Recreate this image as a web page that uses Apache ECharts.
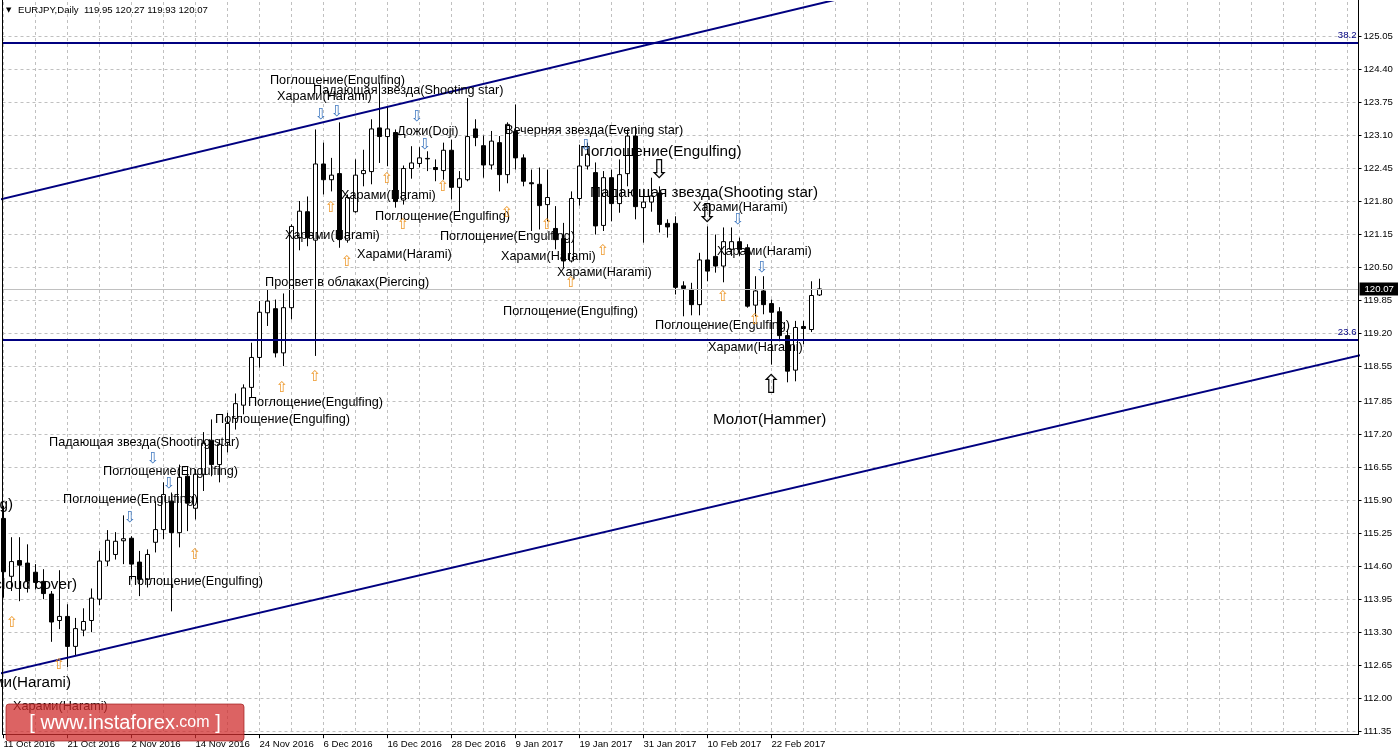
<!DOCTYPE html>
<html>
<head>
<meta charset="utf-8">
<script src="https://cdn.jsdelivr.net/npm/echarts@6/dist/echarts.min.js"></script>
<style>
html,body{margin:0;padding:0;background:#fff;}
#chart{width:1398px;height:755px;}
</style>
</head>
<body>
<div id="chart"></div>
<script>
// ---------------- data ----------------
const symbolName = 'EURJPY';
const timeframe = 'Daily';

const dates = [
'11 Oct 2016','12 Oct 2016','13 Oct 2016','14 Oct 2016','17 Oct 2016','18 Oct 2016','19 Oct 2016','20 Oct 2016','21 Oct 2016','24 Oct 2016','25 Oct 2016','26 Oct 2016','27 Oct 2016','28 Oct 2016','31 Oct 2016',
'1 Nov 2016','2 Nov 2016','3 Nov 2016','4 Nov 2016','7 Nov 2016','8 Nov 2016','9 Nov 2016','10 Nov 2016','11 Nov 2016','14 Nov 2016','15 Nov 2016','16 Nov 2016','17 Nov 2016','18 Nov 2016','21 Nov 2016','22 Nov 2016','23 Nov 2016','24 Nov 2016','25 Nov 2016','28 Nov 2016','29 Nov 2016','30 Nov 2016',
'1 Dec 2016','2 Dec 2016','5 Dec 2016','6 Dec 2016','7 Dec 2016','8 Dec 2016','9 Dec 2016','12 Dec 2016','13 Dec 2016','14 Dec 2016','15 Dec 2016','16 Dec 2016','19 Dec 2016','20 Dec 2016','21 Dec 2016','22 Dec 2016','23 Dec 2016','26 Dec 2016','27 Dec 2016','28 Dec 2016','29 Dec 2016','30 Dec 2016',
'2 Jan 2017','3 Jan 2017','4 Jan 2017','5 Jan 2017','6 Jan 2017','9 Jan 2017','10 Jan 2017','11 Jan 2017','12 Jan 2017','13 Jan 2017','16 Jan 2017','17 Jan 2017','18 Jan 2017','19 Jan 2017','20 Jan 2017','23 Jan 2017','24 Jan 2017','25 Jan 2017','26 Jan 2017','27 Jan 2017','30 Jan 2017','31 Jan 2017',
'1 Feb 2017','2 Feb 2017','3 Feb 2017','6 Feb 2017','7 Feb 2017','8 Feb 2017','9 Feb 2017','10 Feb 2017','13 Feb 2017','14 Feb 2017','15 Feb 2017','16 Feb 2017','17 Feb 2017','20 Feb 2017','21 Feb 2017','22 Feb 2017','23 Feb 2017','24 Feb 2017','27 Feb 2017','28 Feb 2017',
'1 Mar 2017','2 Mar 2017'];

const openP = [
115.55,114.41,114.72,114.67,114.49,114.31,114.06,113.54,113.62,113.03,
113.35,113.54,113.96,114.71,114.84,115.11,115.16,114.69,114.35,115.08,
115.33,115.89,115.27,116.38,115.75,116.42,117.09,116.61,117.05,117.52,
117.78,118.13,118.72,119.60,119.68,118.81,119.70,121.08,121.59,121.03,
122.53,122.22,122.34,121.03,121.59,122.34,122.38,123.24,123.07,123.15,
121.82,122.44,122.54,122.64,122.46,122.40,122.80,122.07,122.22,123.22,
122.89,122.51,122.95,122.32,123.17,122.65,122.16,122.13,121.73,121.26,
121.06,120.62,121.85,122.49,122.36,121.32,122.26,121.75,122.34,123.08,
121.67,121.78,121.96,121.36,121.36,120.13,120.06,119.76,120.64,120.71,
120.52,120.85,121.00,120.88,119.75,120.03,119.78,119.62,119.15,118.47,
119.33,119.27,119.95];

const highP = [
115.80,115.18,115.18,115.04,114.65,114.55,114.12,114.53,113.86,113.59,
113.78,114.17,114.91,115.32,115.28,115.61,115.20,114.91,114.94,115.89,
116.26,116.06,116.61,116.58,116.52,117.25,117.50,117.11,117.63,118.01,
118.19,119.01,119.83,120.06,119.86,119.98,121.34,121.80,121.89,123.21,
122.95,122.65,123.35,121.93,122.62,122.81,123.41,124.13,123.67,123.21,
122.50,122.88,122.86,122.78,122.62,122.95,123.01,122.39,123.83,123.41,
123.09,123.18,123.08,123.35,123.70,122.72,122.42,122.46,122.42,121.70,
121.37,121.99,122.91,122.95,122.56,122.39,122.42,122.62,123.21,123.27,
122.03,122.26,122.09,121.44,121.50,120.22,120.19,120.78,121.30,121.14,
121.28,121.28,121.08,120.95,120.32,120.32,119.86,119.71,119.27,119.44,
119.44,120.22,120.27];

const lowP = [
113.99,114.12,113.92,114.09,114.15,113.96,113.12,113.37,112.62,112.84,
113.23,113.31,113.84,114.61,114.74,114.65,114.35,114.02,114.19,114.88,
115.14,113.72,114.98,115.30,115.53,116.09,116.38,116.26,116.85,117.30,
117.60,117.93,118.52,119.34,118.72,118.55,119.47,120.83,120.91,118.75,
121.93,121.99,120.88,120.98,121.57,122.09,122.13,122.55,122.49,121.67,
121.73,122.24,122.46,122.39,122.19,122.22,121.83,121.60,122.19,122.88,
122.26,122.42,121.99,122.15,122.42,122.09,121.21,121.24,121.40,120.85,
120.49,120.59,121.71,122.42,121.14,121.21,121.40,121.57,122.09,121.44,
120.98,121.59,121.18,121.08,119.96,119.53,119.55,119.55,120.22,120.39,
120.20,120.72,120.72,119.70,119.53,119.57,118.58,119.04,118.23,118.25,
118.98,119.22,119.93];

const closeP = [
114.50,114.70,114.63,114.32,114.29,114.07,113.51,113.62,113.03,113.38,
113.52,113.98,114.71,115.12,115.10,115.15,114.65,114.35,114.84,115.33,
116.02,115.27,116.36,115.85,116.42,117.03,116.61,117.01,117.42,117.81,
118.12,118.72,119.61,119.83,118.81,119.70,121.30,121.60,121.08,122.53,
122.22,122.31,121.04,121.87,122.31,122.40,123.22,123.07,123.22,121.79,
122.44,122.55,122.65,122.63,122.42,122.80,122.07,122.24,123.07,123.05,
122.51,122.98,122.32,123.31,122.65,122.19,122.14,121.71,121.87,121.04,
120.62,121.85,122.49,122.72,121.31,122.26,121.75,122.32,123.08,121.69,
121.78,121.90,121.34,121.29,120.10,120.08,119.76,120.64,120.42,120.52,
121.00,121.00,120.85,119.73,120.03,119.76,119.61,119.15,118.45,119.31,
119.29,119.94,120.07];

const xTickLabels = ['11 Oct 2016','21 Oct 2016','2 Nov 2016','14 Nov 2016','24 Nov 2016','6 Dec 2016','16 Dec 2016','28 Dec 2016','9 Jan 2017','19 Jan 2017','31 Jan 2017','10 Feb 2017','22 Feb 2017'];
const yTickLabels = ['111.35','112.00','112.65','113.30','113.95','114.60','115.25','115.90','116.55','117.20','117.85','118.55','119.20','119.85','120.50','121.15','121.80','122.45','123.10','123.75','124.40','125.05'];

const fibNames = ['38.2', '23.6'];
const fibValues = [124.92, 119.07];

// trend lines: [candle index, price]
const upperTrend = [[-2, 121.77], [170, 128.25]];
const lowerTrend = [[-2, 112.44], [170, 118.78]];

// pattern annotations: [text, candle index, price]
const smallNotes = [
['Поглощение(Engulfing)', 33.31, 124.18],
['Падающая звезда(Shooting star)', 38.69, 123.97],
['Харами(Harami)', 34.19, 123.85],
['Дожи(Doji)', 49.19, 123.16],
['Вечерняя звезда(Evening star)', 62.69, 123.18],
['Харами(Harami)', 42.19, 121.90],
['Поглощение(Engulfing)', 46.44, 121.49],
['Харами(Harami)', 35.19, 121.13],
['Харами(Harami)', 44.19, 120.74],
['Просвет в облаках(Piercing)', 32.69, 120.19],
['Поглощение(Engulfing)', 54.56, 121.11],
['Харами(Harami)', 62.19, 120.70],
['Харами(Harami)', 69.19, 120.40],
['Поглощение(Engulfing)', 62.44, 119.63],
['Харами(Harami)', 86.19, 121.68],
['Харами(Harami)', 89.19, 120.80],
['Поглощение(Engulfing)', 81.44, 119.34],
['Харами(Harami)', 88.06, 118.91],
['Поглощение(Engulfing)', 30.56, 117.84],
['Поглощение(Engulfing)', 26.44, 117.49],
['Падающая звезда(Shooting star)', 5.69, 117.05],
['Поглощение(Engulfing)', 12.44, 116.48],
['Поглощение(Engulfing)', 7.44, 115.93],
['Поглощение(Engulfing)', 15.56, 114.30],
['Харами(Harami)', 1.19, 111.84]
];
const largeNotes = [
['Поглощение(Engulfing)', 72.06, 122.77],
['Падающая звезда(Shooting star)', 73.31, 121.96],
['Молот(Hammer)', 88.69, 117.49]
];
const edgeNotes = [
['Поглощение(Engulfing)', 1.19, 115.81],
['Завеса из темных облаков(Dark cloud cover)', 9.19, 114.24],
['Харами(Harami)', 8.44, 112.31]
];
const upArrows = [[40.94,121.66],[47.94,122.23],[49.94,121.33],[54.94,122.08],[42.94,120.60],[62.94,121.56],[67.94,121.33],[70.94,120.19],[74.94,120.82],[89.94,119.91],[93.94,119.46],[38.94,118.33],[34.81,118.12],[23.94,114.83],[1.06,113.49],[6.94,112.66]];
const downArrows = [[39.69,123.49],[41.69,123.55],[51.69,123.455],[52.69,122.90],[72.81,122.88],[91.81,121.43],[94.81,120.48],[18.69,116.72],[20.69,116.23],[15.81,115.56]];
const bigDownArrows = [[81.94,122.39],[87.94,121.53]];
const bigUpArrows = [[95.94,118.16]];

// ---------------- chart ----------------
const FONT = '"Liberation Sans", Arial, sans-serif';
const N = dates.length;
const last = N - 1;
const xMin = -0.125, xMax = 169.375;
const gridStepVals = [];
for (let v = 0; v <= 168; v += 4) gridStepVals.push(v);
const xLabelVals = xTickLabels.map(l => dates.indexOf(l));
const yTickVals = yTickLabels.map(Number);
const candleData = dates.map((d, i) => [i, openP[i], closeP[i], lowP[i], highP[i]]);

function textLayer(list, fontSize, color, align) {
  return {
    type: 'custom', xAxisIndex: 0, yAxisIndex: 0, silent: true, clip: false, z: 6,
    data: list.map((n, k) => [n[1], n[2], k]),
    encode: { x: 0, y: 1 },
    renderItem: (params, api) => {
      const p = api.coord([api.value(0), api.value(1)]);
      return { type: 'text', x: p[0], y: p[1],
        style: { text: list[api.value(2)][0], fontSize: fontSize, fontFamily: FONT, fill: color,
                 align: align, verticalAlign: 'middle' } };
    }
  };
}
function arrowLayer(points, glyph, fontSize, color) {
  return {
    type: 'custom', xAxisIndex: 0, yAxisIndex: 0, silent: true, clip: false, z: 6,
    data: points.map(p => [p[0], p[1]]),
    encode: { x: 0, y: 1 },
    renderItem: (params, api) => {
      const p = api.coord([api.value(0), api.value(1)]);
      return { type: 'text', x: p[0], y: p[1],
        style: { text: glyph, fontSize: fontSize, fontFamily: '"DejaVu Sans", sans-serif', fill: color,
                 align: 'center', verticalAlign: 'middle' } };
    }
  };
}

const chart = echarts.init(document.getElementById('chart'), null, { renderer: 'canvas', width: 1398, height: 755 });

const gridLine = { color: '#c0c0c0', type: [3, 3], width: 1 };

const option = {
  animation: false,
  backgroundColor: '#ffffff',
  grid: { left: 2.5, right: 39.5, top: 2, bottom: 23.3, containLabel: false, outerBoundsMode: 'none' },
  xAxis: [
    { type: 'value', min: xMin, max: xMax, position: 'bottom', offset: 2.5,
      axisLine: { show: true, onZero: false, lineStyle: { color: '#000', width: 1 } },
      axisTick: { show: false, customValues: gridStepVals },
      axisLabel: { show: false, customValues: gridStepVals },
      splitLine: { show: true, lineStyle: gridLine } },
    { type: 'value', min: xMin, max: xMax, position: 'bottom', offset: 2.5,
      axisLine: { show: false, onZero: false },
      axisTick: { show: true, length: 4, customValues: xLabelVals, lineStyle: { color: '#000' } },
      axisLabel: { show: true, customValues: xLabelVals, formatter: v => dates[Math.round(v)] || '',
                   align: 'left', margin: 5, color: '#000', fontSize: 9.6, fontFamily: FONT },
      splitLine: { show: false } }
  ],
  yAxis: {
    type: 'value', position: 'right', min: 111.35, max: 125.7196,
    axisLine: { show: false, onZero: false },
    axisTick: { show: true, inside: false, length: 3, customValues: yTickVals, lineStyle: { color: '#000' } },
    axisLabel: { show: true, customValues: yTickVals, formatter: v => v.toFixed(2), color: '#000',
                 fontSize: 9.6, fontFamily: FONT, margin: 5 },
    splitLine: { show: true, lineStyle: gridLine }
  },
  series: [
    {
      type: 'candlestick', xAxisIndex: 0, yAxisIndex: 0, data: candleData,
      encode: { x: 0, y: [1, 2, 3, 4] },
      barWidth: 5, clip: false, silent: true, z: 4,
      itemStyle: { color: '#ffffff', color0: '#000000', borderColor: '#000000', borderColor0: '#000000',
                   borderColorDoji: '#000000', borderWidth: 1 },
      markLine: {
        symbol: ['none', 'none'], silent: true, animation: false,
        data: fibValues.map((v, k) => ({
          yAxis: v,
          lineStyle: { color: '#000080', width: 2, type: 'solid' },
          label: { show: true, position: 'insideEndTop', formatter: fibNames[k], color: '#000080',
                   fontSize: 9.6, fontFamily: FONT, distance: 2 }
        })).concat([{
          yAxis: closeP[last],
          lineStyle: { color: '#c0c0c0', width: 1, type: 'solid' },
          label: { show: true, position: 'end', formatter: closeP[last].toFixed(2), color: '#ffffff',
                   backgroundColor: '#000000', padding: [2, 5, 1, 5], fontSize: 9.6, fontFamily: FONT, distance: 1 }
        }])
      }
    },
    { type: 'line', xAxisIndex: 0, yAxisIndex: 0, data: upperTrend, symbol: 'none', silent: true, z: 5,
      lineStyle: { color: '#000080', width: 2 } },
    { type: 'line', xAxisIndex: 0, yAxisIndex: 0, data: lowerTrend, symbol: 'none', silent: true, z: 5,
      lineStyle: { color: '#000080', width: 2 } },
    textLayer(smallNotes, 12.7, '#000000', 'left'),
    textLayer(largeNotes, 15.2, '#000000', 'left'),
    textLayer(edgeNotes, 15.2, '#000000', 'right'),
    arrowLayer(upArrows, '⇧', 15, '#ee9a2e'),
    arrowLayer(downArrows, '⇩', 15, '#3f78c0'),
    arrowLayer(bigUpArrows, '⇧', 26, '#000000'),
    arrowLayer(bigDownArrows, '⇩', 26, '#000000')
  ],
  graphic: [
    { type: 'line', z: 50, silent: true, shape: { x1: 2.5, y1: 0, x2: 2.5, y2: 734.7 }, style: { stroke: '#000', lineWidth: 1 } },
    { type: 'line', z: 50, silent: true, shape: { x1: 1358.5, y1: 0, x2: 1358.5, y2: 734.7 }, style: { stroke: '#000', lineWidth: 1 } },
    { type: 'text', z: 50, silent: true, x: 6, y: 10.5,
      style: { text: '▼', fontSize: 7, fontFamily: '"DejaVu Sans", sans-serif', fill: '#000', verticalAlign: 'middle' } },
    { type: 'text', z: 50, silent: true, x: 18, y: 10.5,
      style: { text: symbolName + ',' + timeframe + '  ' + openP[last].toFixed(2) + ' ' + highP[last].toFixed(2) + ' ' +
                     lowP[last].toFixed(2) + ' ' + closeP[last].toFixed(2),
               fontSize: 9.6, fontFamily: FONT, fill: '#000', verticalAlign: 'middle' } },
    { type: 'group', z: 100, silent: true, x: 6, y: 704,
      children: [
        { type: 'rect', z: 100, shape: { x: 0, y: 0, width: 238, height: 37, r: 3 },
          style: { fill: 'rgba(208,44,44,0.74)', stroke: 'rgba(160,30,30,0.7)', lineWidth: 1 } },
        { type: 'text', z: 101, x: 119, y: 19,
          style: { text: '{a|[ www.instaforex}{b|.com}{a| ]}', align: 'center', verticalAlign: 'middle',
                   rich: { a: { fontSize: 20, fontFamily: FONT, fill: '#ffffff' },
                           b: { fontSize: 16, fontFamily: FONT, fill: '#ffffff' } } } }
      ] }
  ]
};
chart.setOption(option);
</script>
</body>
</html>
